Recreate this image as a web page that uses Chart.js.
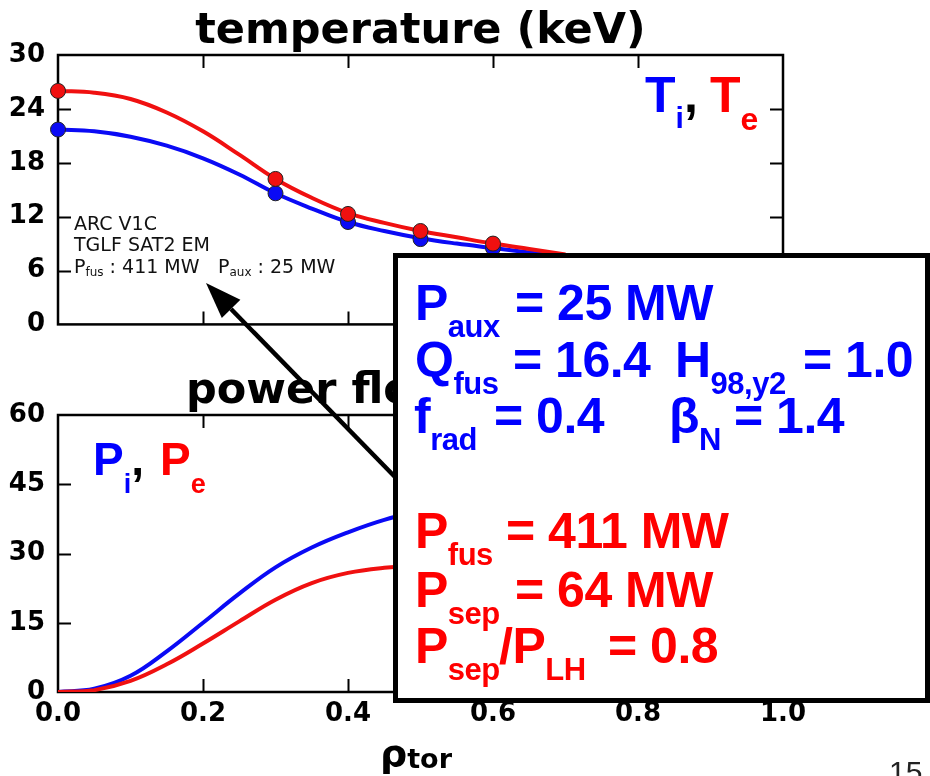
<!DOCTYPE html>
<html>
<head>
<meta charset="utf-8">
<script src="https://cdn.jsdelivr.net/npm/chart.js@4.4.0/dist/chart.umd.min.js"></script>
<style>
  html, body { margin: 0; padding: 0; background: #fff; }
  body { width: 930px; height: 776px; position: relative; overflow: hidden; }
  .caixa-grafico { position: absolute; left: 0; }
  #caixaTemp { top: 0; width: 840px; height: 345px; }
  #caixaPot  { top: 345px; width: 840px; height: 390px; }
  #sobreposicao { position: absolute; left: 0; top: 0; }
</style>
</head>
<body>
<div class="caixa-grafico" id="caixaTemp"><canvas id="graficoTemp" width="840" height="345"></canvas></div>
<div class="caixa-grafico" id="caixaPot"><canvas id="graficoPot" width="840" height="390"></canvas></div>

<svg id="sobreposicao" width="930" height="776" xmlns="http://www.w3.org/2000/svg">
  <!-- rótulos das curvas -->
  <g font-family="Liberation Sans, Arial, sans-serif" font-weight="bold">
    <text x="645" y="112" font-size="50"><tspan fill="#0000ff">T</tspan><tspan fill="#0000ff" font-size="30" dy="16">i</tspan><tspan fill="#000" dy="-16">,</tspan><tspan x="710" fill="#ff0000">T</tspan><tspan fill="#ff0000" font-size="32" dy="18">e</tspan></text>
    <text x="93" y="475" font-size="46"><tspan fill="#0000ff">P</tspan><tspan fill="#0000ff" font-size="27" dy="18">i</tspan><tspan fill="#000" dy="-18">,</tspan><tspan x="160" fill="#ff0000">P</tspan><tspan fill="#ff0000" font-size="27" dy="18">e</tspan></text>
  </g>

  <!-- anotação do caso -->
  <g font-family="DejaVu Sans, sans-serif" font-size="19" fill="#111">
    <text x="74" y="230">ARC V1C</text>
    <text x="74" y="251">TGLF SAT2 EM</text>
    <text x="74" y="273">P<tspan font-size="12" dy="3">fus</tspan><tspan dy="-3"> : 411 MW</tspan></text>
    <text x="218" y="273">P<tspan font-size="12" dy="3">aux</tspan><tspan dy="-3"> : 25 MW</tspan></text>
  </g>

  <!-- seta -->
  <line x1="397" y1="479" x2="231" y2="309" stroke="#000" stroke-width="4.5"/>
  <polygon points="206,283 240.4,299.7 221.8,317.9" fill="#000"/>

  <!-- caixa de resultados -->
  <rect x="395.5" y="255.5" width="532" height="445" fill="#fff" stroke="#000" stroke-width="5"/>
  <g font-family="Liberation Sans, Arial, sans-serif" font-weight="bold" font-size="50" letter-spacing="-0.5">
    <g fill="#0000ff">
      <text x="415" y="320">P<tspan font-size="31" dy="17">aux</tspan><tspan x="515" dy="-17">= 25 MW</tspan></text>
      <text x="415" y="377">Q<tspan font-size="31" dy="17">fus</tspan><tspan x="513" dy="-17">= 16.4</tspan><tspan x="675">H</tspan><tspan font-size="31" dy="17">98,y2</tspan><tspan x="803" dy="-17">= 1.0</tspan></text>
      <text x="414" y="433">f<tspan font-size="31" dy="17">rad</tspan><tspan x="494" dy="-17">= 0.4</tspan><tspan x="669">β</tspan><tspan font-size="31" dy="17">N</tspan><tspan x="734" dy="-17">= 1.4</tspan></text>
    </g>
    <g fill="#ff0000">
      <text x="415" y="548">P<tspan font-size="31" dy="17">fus</tspan><tspan x="506" dy="-17">= 411 MW</tspan></text>
      <text x="415" y="607">P<tspan font-size="31" dy="17">sep</tspan><tspan x="515" dy="-17">= 64 MW</tspan></text>
      <text x="415" y="663">P<tspan font-size="31" dy="17">sep</tspan><tspan x="499" dy="-17">/P</tspan><tspan font-size="31" dy="17">LH</tspan><tspan x="608" dy="-17">= 0.8</tspan></text>
    </g>
  </g>

  <!-- eixo x e número da página -->
  <text x="380" y="766" font-family="DejaVu Sans, sans-serif" font-weight="bold" font-size="38" fill="#000">ρ<tspan font-size="27" dy="2">tor</tspan></text>
  <text x="889" y="782" font-family="Liberation Sans, Arial, sans-serif" font-size="30" fill="#222">15</text>
</svg>

<script>
// === DADOS =================================================================
const rhoCurva = [0, 0.05, 0.1, 0.15, 0.2, 0.25, 0.3, 0.35, 0.4, 0.45, 0.5, 0.55, 0.6, 0.65, 0.7];
const teCurva  = [26.0, 25.8, 25.1, 23.6, 21.5, 18.9, 16.2, 14.1, 12.4, 11.3, 10.4, 9.7, 9.0, 8.4, 7.8];
const tiCurva  = [21.7, 21.5, 20.9, 19.9, 18.5, 16.7, 14.6, 12.9, 11.4, 10.4, 9.6, 9.0, 8.5, 8.0, 7.5];

const rhoPontos = [0, 0.3, 0.4, 0.5, 0.6];
const tePontos  = [26.0, 16.2, 12.3, 10.4, 9.0];
const tiPontos  = [21.7, 14.6, 11.4, 9.5, 8.5];

const rhoPot = [0, 0.05, 0.1, 0.15, 0.2, 0.25, 0.3, 0.35, 0.4, 0.45, 0.5, 0.55, 0.6];
const piCurva = [0, 0.7, 3.5, 8.8, 15.0, 21.3, 27.0, 31.3, 34.6, 37.3, 39.2, 40.5, 41.5];
const peCurva = [0, 0.4, 2.4, 6.0, 10.5, 15.3, 20.0, 23.6, 25.8, 26.9, 27.4, 27.6, 27.7];

const ticksRho  = [0, 0.2, 0.4, 0.6, 0.8, 1.0];
const ticksTemp = [0, 6, 12, 18, 24, 30];
const ticksPot  = [0, 15, 30, 45, 60];

// === HELPERS ===============================================================
const AZUL = '#0a0af5';
const VERMELHO = '#f01010';
const fonteEixo = { family: 'DejaVu Sans', size: 26, weight: 'bold' };

const pares = (xs, ys) => xs.map((x, i) => ({ x, y: ys[i] }));

// moldura fechada + ticks para dentro nos 4 lados (estilo matplotlib)
const molduraPlugin = {
  id: 'moldura',
  beforeDatasetsDraw(chart) {
    const { ctx, chartArea: a, scales: { x, y } } = chart;
    const tam = 13;
    ctx.save();
    ctx.strokeStyle = '#000';
    ctx.lineWidth = 2;
    ctx.beginPath();
    x.ticks.forEach(t => {
      const px = Math.round(x.getPixelForValue(t.value)) + 0.5;
      if (px <= a.left + 2 || px >= a.right - 2) return;
      ctx.moveTo(px, a.bottom); ctx.lineTo(px, a.bottom - tam);
      ctx.moveTo(px, a.top);    ctx.lineTo(px, a.top + tam);
    });
    y.ticks.forEach(t => {
      const py = Math.round(y.getPixelForValue(t.value)) + 0.5;
      if (py <= a.top + 2 || py >= a.bottom - 2) return;
      ctx.moveTo(a.left, py);  ctx.lineTo(a.left + tam, py);
      ctx.moveTo(a.right, py); ctx.lineTo(a.right - tam, py);
    });
    ctx.stroke();
    ctx.lineWidth = 2.5;
    ctx.strokeRect(a.left, a.top, a.right - a.left, a.bottom - a.top);
    ctx.restore();
  }
};

function escalaY(min, max, valores) {
  return {
    type: 'linear', min, max,
    afterBuildTicks: s => { s.ticks = valores.map(v => ({ value: v })); },
    afterFit: s => { s.width = 58; },
    ticks: { font: fonteEixo, color: '#000', padding: 5 },
    grid: { display: false },
    border: { display: false }
  };
}

function curva(dados, cor, ordem) {
  return {
    data: dados, showLine: true, borderColor: cor, borderWidth: 4,
    pointRadius: 0, tension: 0.4, order: ordem
  };
}

function pontos(dados, cor, ordem) {
  return {
    data: dados, showLine: false, pointRadius: 7.5, pointBackgroundColor: cor,
    pointBorderColor: '#222', pointBorderWidth: 1, clip: false, order: ordem
  };
}

// cheio = false centraliza o título sobre a área do gráfico
function titulo(texto, padTopo, cheio) {
  return {
    display: true, text: texto, color: '#000', fullSize: cheio,
    font: { family: 'DejaVu Sans', size: 43, weight: 'bold', lineHeight: 1 },
    padding: { top: padTopo, bottom: 1.5 }
  };
}

// === GRÁFICO: TEMPERATURA ==================================================
new Chart(document.getElementById('graficoTemp'), {
  type: 'scatter',
  data: {
    datasets: [
      pontos(pares(rhoPontos, tePontos), VERMELHO, 0),
      pontos(pares(rhoPontos, tiPontos), AZUL, 1),
      curva(pares(rhoCurva, teCurva), VERMELHO, 2),
      curva(pares(rhoCurva, tiCurva), AZUL, 3)
    ]
  },
  options: {
    responsive: false,
    animation: false,
    layout: { padding: { top: 0, right: 57, bottom: 12, left: 0 } },
    plugins: {
      legend: { display: false },
      tooltip: { enabled: false },
      title: titulo('temperature (keV)', 10.5, false)
    },
    scales: {
      x: {
        type: 'linear', min: 0, max: 1,
        afterBuildTicks: s => { s.ticks = ticksRho.map(v => ({ value: v })); },
        afterFit: s => { s.height = 0; },
        ticks: { display: false },
        grid: { display: false },
        border: { display: false }
      },
      y: escalaY(0, 30, ticksTemp)
    }
  },
  plugins: [molduraPlugin]
});

// === GRÁFICO: FLUXO DE POTÊNCIA ============================================
new Chart(document.getElementById('graficoPot'), {
  type: 'scatter',
  data: {
    datasets: [
      curva(pares(rhoPot, peCurva), VERMELHO, 0),
      curva(pares(rhoPot, piCurva), AZUL, 1)
    ]
  },
  options: {
    responsive: false,
    animation: false,
    layout: { padding: { top: 0, right: 57, bottom: 0, left: 0 } },
    plugins: {
      legend: { display: false },
      tooltip: { enabled: false },
      title: titulo('power flow (MW)', 25.5, true)
    },
    scales: {
      x: {
        type: 'linear', min: 0, max: 1,
        afterBuildTicks: s => { s.ticks = ticksRho.map(v => ({ value: v })); },
        afterFit: s => { s.height = 43; },
        ticks: { font: { ...fonteEixo, size: 26 }, color: '#000', padding: -1,
                 callback: v => Number(v).toFixed(1) },
        grid: { display: false },
        border: { display: false }
      },
      y: escalaY(0, 60, ticksPot)
    }
  },
  plugins: [molduraPlugin]
});
</script>
</body>
</html>
